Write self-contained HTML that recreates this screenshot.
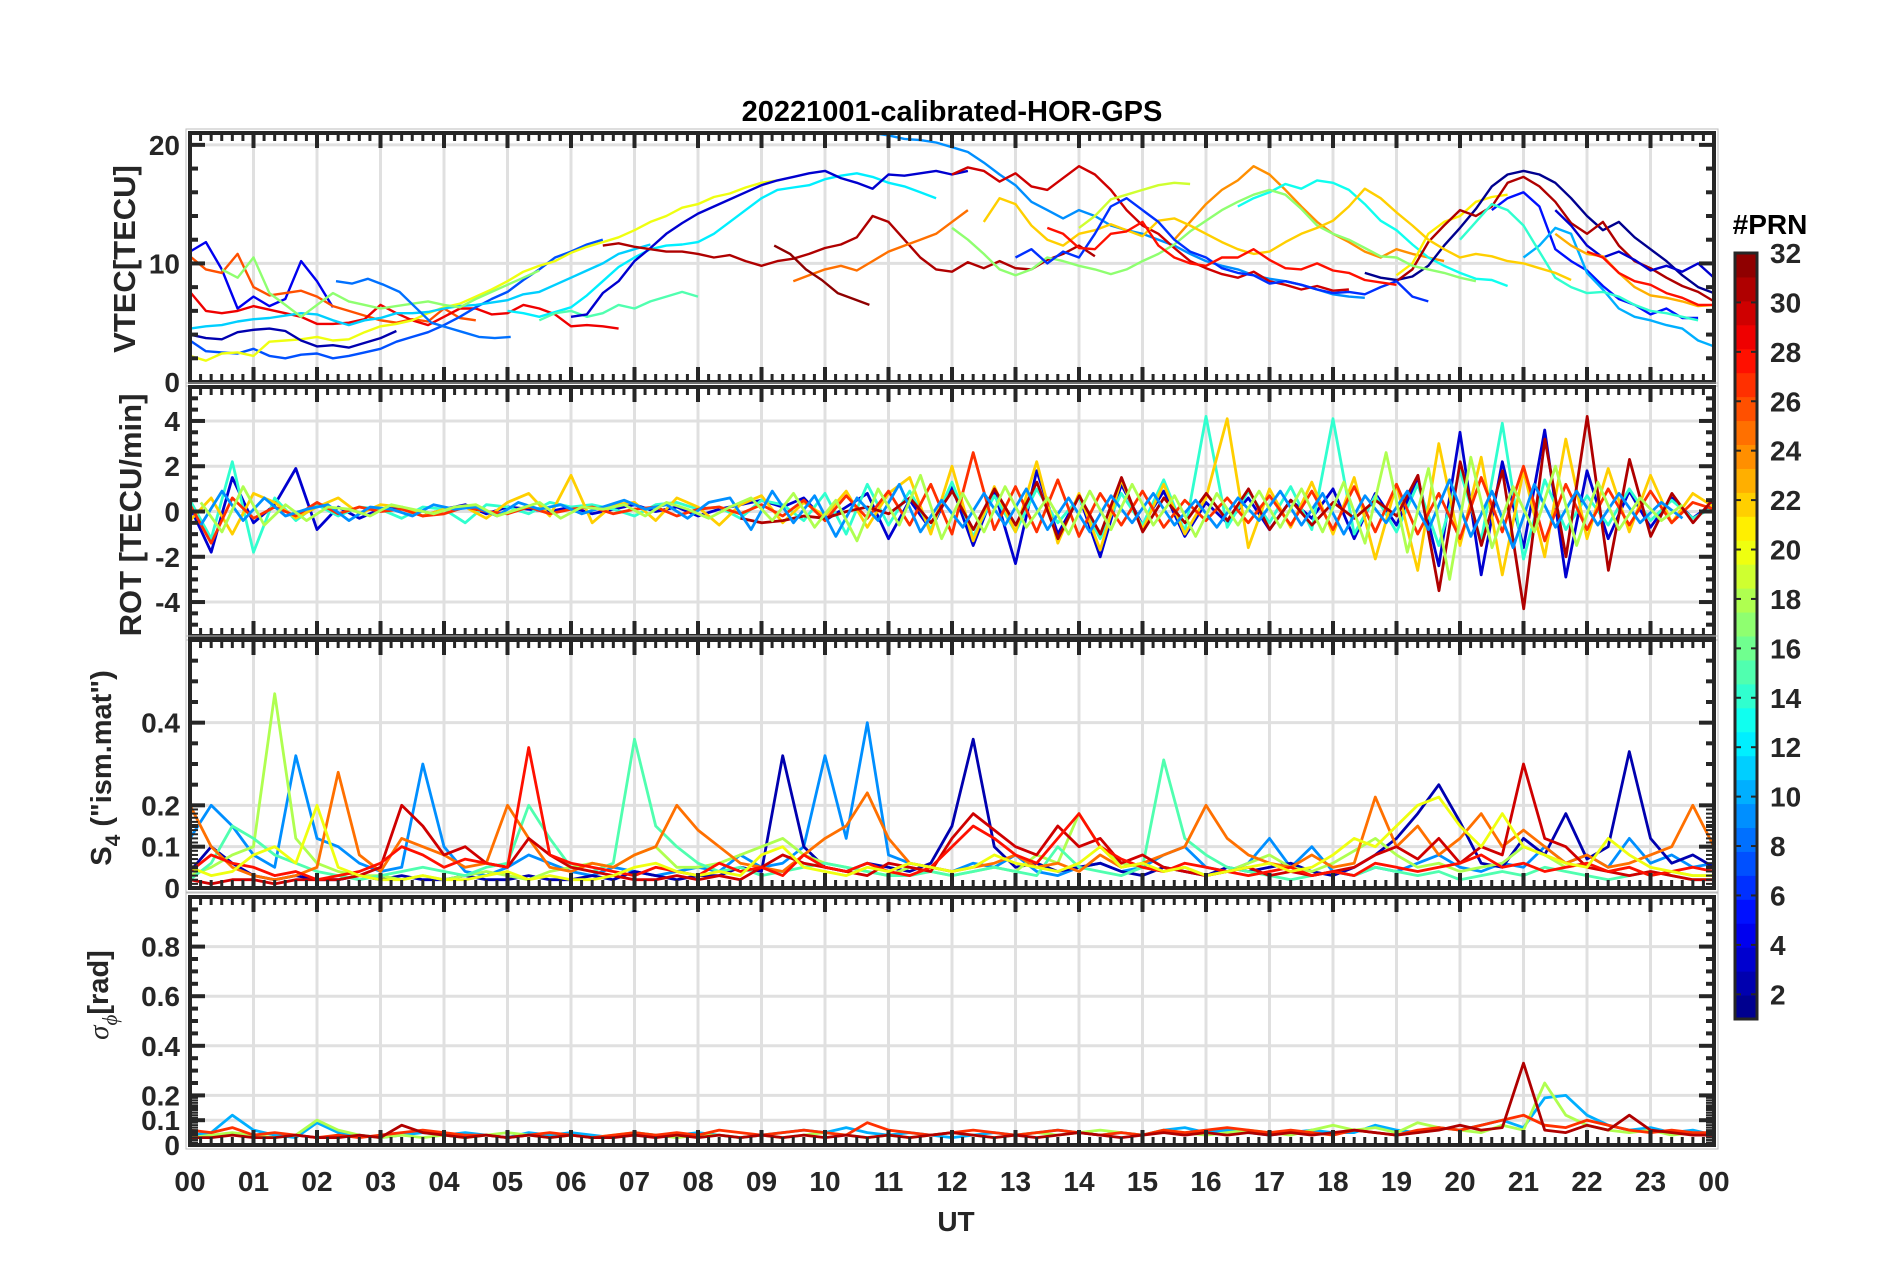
<!DOCTYPE html>
<html><head><meta charset="utf-8"><style>
html,body{margin:0;padding:0;background:#fff;}
svg{display:block;font-family:"Liberation Sans",Arial,sans-serif;font-weight:bold;}
</style></head><body>
<svg id="fig" width="1902" height="1272" viewBox="0 0 1902 1272" xmlns="http://www.w3.org/2000/svg">
<text x="952" y="121" font-size="29" text-anchor="middle" fill="#000">20221001-calibrated-HOR-GPS</text>
<text x="956" y="1231" font-size="28" text-anchor="middle" fill="#262626">UT</text>
<text transform="translate(135,259) rotate(-90)" font-size="31" text-anchor="middle" fill="#262626">VTEC[TECU]</text>
<text transform="translate(141,515) rotate(-90)" font-size="31" text-anchor="middle" fill="#262626">ROT [TECU/min]</text>
<text transform="translate(111,768) rotate(-90)" font-size="29" text-anchor="middle" fill="#262626">S<tspan font-size="21" dy="9">4</tspan><tspan dy="-9"> ("ism.mat")</tspan></text>
<text transform="translate(108,995) rotate(-90)" font-size="29" text-anchor="middle" fill="#262626"><tspan font-style="italic" font-weight="normal" font-family="Liberation Serif, serif">σ</tspan><tspan font-size="21" dy="9" font-style="italic" font-weight="normal" font-family="Liberation Serif, serif">ϕ</tspan><tspan dy="-9">[rad]</tspan></text>
<text x="1770" y="234" font-size="28" text-anchor="middle" fill="#000">#PRN</text>
</svg>
<script>
// ---------------- DATA ----------------
const hourTicks = ["00","01","02","03","04","05","06","07","08","09","10","11","12","13","14","15","16","17","18","19","20","21","22","23","00"];
const prnTicks = [2,4,6,8,10,12,14,16,18,20,22,24,26,28,30,32];
// VTEC arcs (step 0.25 h)
const vtecPrn   = [4,26,29,7,20,11,2,17,8,12,15,3,31,25,32,9,30,24,13,21,1,31,5,10,3,14,17,22,6,19,28,23,28];
const vtecStart = [0,0,0,0,0,0,0,0.5,2.3,5,5.5,6,6.5,9.5,9.2,10.75,12,15.5,16.5,19,18.5,19,20.5,21,21.5,20,12,12.5,13,14,13.5,21.5,22];
const vtecVals = [
[11,11.8,9.5,6.2,7.2,6.4,7,10.2,8.5,6.3],
[10.6,9.5,9.2,10.8,8,7.3,7.5,7.7,7.2,6.4,6,5.6,5.2,5,5.3,5.1,6.2,5.4,5.2],
[7.6,6,5.8,6,6.4,6.1,5.8,5.5,4.9,4.9,5,5.3,6.5,5.8,5.2,4.8,5.5,6.2,6.2,5.7,5.8,6.5,6.2,5.7,4.7,4.8,4.7,4.5],
[3.5,2.6,2.5,2.4,2.8,2.2,2.0,2.3,2.4,2.0,2.2,2.5,2.8,3.4,3.8,4.2,4.8,5.5,6.3,7.0,7.6,8.6,9.5,10.5,11,11.6,12],
[2.2,1.8,2.4,2.5,2.2,3.4,3.5,3.6,3.8,3.5,3.6,4.2,4.7,4.9,5.2,5.8,6.3,6.6,7.2,7.8,8.5,9.3,9.8,10.2,10.9,11.4,11.8,12.2,12.8,13.5,14,14.7,15,15.6,15.9,16.4,16.8,17],
[4.5,4.7,4.8,5.1,5.3,5.4,5.6,5.8,5.7,5.2,4.8,5.2,5.4,5.8,5.8,5.9,6.2,6.4,6.5,6.7,6.9,7.4,7.6,8.2,8.8,9.4,10,10.8,11.2,11.6],
[4,3.7,3.6,4.2,4.4,4.5,4.3,3.5,3.0,3.1,2.9,3.3,3.7,4.3],
[9.5,8.8,10.5,7.5,6.5,5.5,6.5,7.5,6.8,6.5,6.2,6.4,6.6,6.8,6.5,6.3,7,7.6,8.2,8.8,9.4],
[8.5,8.3,8.7,8.2,7.6,6.3,5,4.6,4.2,3.8,3.7,3.8],
[6,5.8,5.5,5.9,6.3,7.3,8.5,9.7,10.5,11.2,11.5,11.6,11.8,12.5,13.5,14.5,15.5,16.2,16.4,16.6,17.1,17.4,17.6,17.3,16.8,16.5,16,15.5],
[5.2,5.8,6,5.5,5.8,6.5,6.2,6.8,7.2,7.6,7.2],
[5.5,5.7,7.5,8.5,10.2,11.3,12.5,13.4,14.2,14.8,15.4,16,16.6,17,17.3,17.6,17.8,17.2,16.8,16.3,17.5,17.4,17.6,17.8,17.5,17.8],
[11.5,11.7,11.4,11.2,11,11,10.8,10.5,10.7,10.2,9.8,10.2,10.4,10.8,11.3,11.6,12.2,14,13.5,12,10.5,9.5,9.3,10.1,9.6,10.2,9.6,9.5,10.3,10.8,11.5,10.6],
[8.5,9,9.5,9.8,9.4,10.2,11,11.5,12,12.5,13.5,14.5],
[11.5,10.8,9.5,8.6,7.5,7,6.5],
[21,20.8,20.5,20.4,20.2,19.8,19.4,18.5,17.5,16.6,15.2,14.5,13.8,14.5,14,13.2,12.8,12.5,12,11.5,10.8,10.2,9.8,9.5,9,8.7,8.5,8.2,7.8,7.4,7.2,7.1],
[17.5,18.1,17.8,16.9,17.6,16.5,16.2,17.2,18.2,17.5,16.2,14.5,13.2,12.5,11.3,10.2,9.6,9.1,8.8,9.3,8.5,8.2,7.8,8.1,7.7,7.8],
[12,13.5,15,16.2,17,18.2,17.5,16.2,14.8,13.5,12.5,11.8,11,10.5,11.2,10.8,10.5,10.2],
[14.8,15.5,16,16.7,16.3,17,16.8,16.2,15,13.6,12.8,11.6,10.5,9.8,9.2,8.7,8.6,8.1],
[9,10,12.5,13.5,14,15.2,15.6,15.8],
[9.2,8.8,8.6,8.9,9.8,11.5,13,14.6,16.5,17.5,17.8,17.5,16.8,15.5,14,12.8,13.5,12.2,11.2,10.2,9,8,7.5],
[8.5,9.5,11.8,13.2,14.5,14,14.8,16.8,17.3,16.5,15.2,13.4,12.5,13.5,11.5,10.2,9.6,8.8,8.1,7.6,6.8],
[14.5,15.5,16,14.8,11.2,10.2,9.4,8.1,7,6.5,5.7,6.2,5.4,5.4],
[10.5,11.5,13,12.5,9.2,7.8,6.2,5.5,5.2,4.8,4.5,3.5,3,2.8],
[14.5,13.2,11.5,10.5,11,10.3,9.4,9.8,9.3,10,8.8,8.1],
[12,13.5,15,14.5,13.2,11,8.8,8,7.5,7.6,7.2,6.5,6,5.8,5.5,5.2],
[13,12,10.8,9.5,9,9.5,10.5,10.2,9.8,9.5,9.1,9.5,10.2,10.8,11.6,12.7,13.6,14.5,15.2,15.8,16.2,15.8,14.6,13.2,12.5,12,11.3,10.6,10.5,9.8,9.5,9.2,8.8,8.5],
[13.5,15.5,15,13.2,12,11.5,12.5,12.8,13.3,12.8,12.3,13.6,13.8,13.2,12.5,11.8,11.2,10.8,11,11.8,12.5,13,13.6,14.8,16.3,15.5,14.3,13.2,12,11.2,10.5,10.8,10.6,10.2,10,9.6,9.2,8.6],
[10.5,11.2,10,11,10.5,12.5,14.8,15.5,14.5,13.5,12,11,10.5,9.6,9.2,9,8.3,8.5,8.2,7.8,7.5,7.6,7.4,8,8.5,7.2,6.8],
[13,14,15.4,15.8,16.2,16.6,16.8,16.7],
[13,12.5,11.3,11.2,12.5,12.7,13.5,11.5,10.5,10,9.8,10.5,10.5,11.2,10.3,9.6,9.5,10,9.4,9.2,8.6,8.4,8.2],
[12.5,11.5,10.8,10.6,9.2,8,7.3,7.1,6.8,6.4,6.5,6.8,7.6],
[11,10.5,9.2,8.5,8.2,7.5,7.1,6.5,6.5,6.8,6.9,7.5,7.8]
];
// ROT series (step 1/3 h)
const rotPrn = [3,14,22,27,31,9,18];
const rotStart = [0,0,0,0,8.67,0.17,0.17];
const rotVals = [
[0.2,-1.8,1.5,-0.5,0.3,1.9,-0.8,0.2,-0.3,0.1,0.2,-0.2,0.1,0.3,-0.1,0.2,0.1,0,0.2,-0.1,0.1,0.3,0,0.2,-0.2,0.1,0.3,0.5,0.2,0.6,-0.4,0.2,0.8,-1.2,0.5,-0.8,1.1,-1.5,0.9,-2.3,1.8,-1.0,0.7,-2.0,1.2,-0.6,0.9,-1.1,0.4,-0.5,0.6,-0.8,0.5,-0.3,1.0,-1.2,0.8,-0.6,1.5,-2.4,3.5,-2.8,2.2,-1.6,3.6,-2.9,1.8,-1.2,0.9,-0.7,0.6,-0.3,0.4],
[0.5,-1.2,2.2,-1.8,0.6,-0.4,0.3,-0.2,0.2,0.1,-0.3,0.2,0.1,-0.5,0.3,0.2,-0.1,0.4,0.2,0.3,0.1,-0.2,0.3,0.4,0.1,0.2,-0.3,0.5,0.3,-0.4,0.8,-1.0,1.2,-0.6,0.9,-0.8,1.3,-1.1,0.7,-0.9,1.0,-0.5,0.6,-1.2,0.8,-0.6,1.4,-0.9,4.2,-0.7,0.9,-0.5,1.1,-0.8,4.1,-1.0,0.7,-0.9,1.2,-1.5,1.8,-1.3,3.9,-2.1,1.4,-0.8,0.7,-0.6,1.0,-0.4,0.5,-0.3,0.2],
[-0.4,0.6,-1.0,0.8,0.4,-0.3,0.2,0.6,-0.1,0.3,0.2,-0.2,0.1,0.2,-0.3,0.4,0.8,-0.2,1.6,-0.5,0.3,0.4,-0.4,0.6,0.2,-0.6,0.3,0.7,-0.5,0.4,-0.2,0.9,-0.7,0.8,1.5,-1.0,2.0,-1.3,1.1,-0.9,2.2,-1.4,0.8,-1.7,1.4,-0.8,1.2,-1.0,0.6,4.1,-1.6,1.0,-0.7,1.3,-1.0,1.5,-2.1,1.2,-2.6,3.0,-1.5,2.4,-2.8,1.8,-2.0,3.2,-1.2,1.9,-0.9,1.6,-0.5,0.8,0.2],
[0.3,-1.4,0.6,-0.3,0.2,-0.2,0.4,-0.1,0.2,0,0.1,-0.2,-0.1,0.2,0,-0.1,0.2,-0.1,0.1,0.2,-0.1,0.1,0.2,-0.2,0.1,0.2,-0.1,0.3,-0.2,0.5,-0.4,0.7,-0.3,0.9,-0.6,1.2,-1.0,2.6,-0.8,1.1,-0.9,1.4,-1.1,0.8,-0.6,0.9,-0.7,0.5,-0.4,0.6,-0.5,0.7,-0.6,0.9,-0.8,1.1,-0.9,1.2,-1.0,0.8,-1.2,1.5,-0.9,2.0,-1.3,1.2,-0.8,1.0,-0.6,0.9,-0.5,0.4,0.1],
[-0.3,-0.5,-0.4,-0.2,-0.3,0,0.2,-0.1,0.6,-0.5,0.9,-0.8,1.0,-0.6,1.3,-1.2,0.7,-1.0,1.5,-0.9,0.6,-0.5,0.8,-0.4,1.0,-0.8,0.5,-0.6,0.4,-0.3,0.5,-0.2,1.6,-3.5,2.2,-1.5,1.8,-4.3,3.2,-2.0,4.2,-2.6,2.3,-1.1,0.8,-0.5,0.6],
[-0.6,0.9,-0.4,0.6,-0.2,0.1,0.3,-0.4,0.2,0.1,-0.2,0.3,0.1,0.2,-0.2,0.4,0.1,0.3,-0.1,0.2,0.5,0.1,0.3,-0.3,0.4,0.6,-0.8,0.9,-0.5,0.7,-1.1,0.6,-0.4,1.2,-0.9,0.5,-0.7,0.8,-0.6,1.0,-0.8,0.6,-0.9,0.7,-0.5,0.8,-0.6,0.5,-0.7,0.6,-0.4,0.9,-0.6,0.8,-1.0,0.7,-0.5,0.9,-0.8,1.4,-1.1,0.9,-1.6,1.2,-0.7,0.9,-0.6,0.8,-0.5,0.4,-0.3],
[0.4,-0.9,1.1,-0.6,0.3,-0.4,0.2,0.1,-0.2,0.3,0.1,-0.1,0.2,0.3,-0.2,0.1,0.4,-0.3,0.2,0.1,0.3,-0.2,0.4,0.1,-0.3,0.2,0.6,-0.4,0.8,-0.7,0.5,-1.3,1.0,-0.6,1.6,-1.2,0.8,-0.9,1.1,-0.7,0.6,-1.0,0.9,-0.8,1.2,-0.6,0.7,-1.1,0.8,-0.6,0.9,-0.7,1.0,-0.9,1.3,-1.4,2.6,-1.8,1.9,-3.0,2.4,-1.6,1.1,-0.9,2.0,-1.5,1.3,-0.8,0.6,-0.4,0.3]
];
// S4 series (step 1/3 h)
const s4Prn = [9,2,18,15,25,30,28,20];
const s4Vals = [
[0.12,0.2,0.15,0.08,0.05,0.32,0.12,0.1,0.06,0.04,0.05,0.3,0.1,0.04,0.03,0.05,0.08,0.06,0.04,0.03,0.05,0.04,0.03,0.04,0.05,0.04,0.08,0.05,0.06,0.1,0.32,0.12,0.4,0.08,0.06,0.05,0.04,0.06,0.05,0.08,0.04,0.03,0.05,0.06,0.04,0.05,0.08,0.1,0.05,0.04,0.06,0.12,0.05,0.1,0.04,0.03,0.05,0.04,0.06,0.08,0.05,0.04,0.06,0.05,0.1,0.06,0.08,0.05,0.12,0.06,0.08,0.05,0.06],
[0.04,0.1,0.06,0.03,0.02,0.03,0.02,0.02,0.03,0.02,0.03,0.02,0.02,0.03,0.02,0.02,0.03,0.02,0.02,0.03,0.02,0.04,0.03,0.02,0.03,0.03,0.05,0.04,0.32,0.1,0.05,0.04,0.06,0.05,0.04,0.06,0.15,0.36,0.1,0.05,0.06,0.04,0.05,0.06,0.04,0.03,0.05,0.04,0.03,0.05,0.04,0.05,0.06,0.04,0.03,0.05,0.08,0.12,0.18,0.25,0.16,0.06,0.05,0.12,0.08,0.18,0.07,0.1,0.33,0.12,0.06,0.08,0.05],
[0.03,0.05,0.08,0.1,0.47,0.12,0.06,0.04,0.03,0.03,0.02,0.03,0.02,0.03,0.04,0.03,0.02,0.04,0.05,0.06,0.05,0.08,0.1,0.05,0.05,0.06,0.08,0.1,0.12,0.08,0.06,0.05,0.04,0.03,0.05,0.04,0.03,0.04,0.05,0.04,0.08,0.06,0.18,0.1,0.06,0.05,0.04,0.05,0.03,0.04,0.06,0.08,0.05,0.04,0.06,0.09,0.12,0.08,0.05,0.06,0.04,0.05,0.06,0.1,0.08,0.05,0.06,0.04,0.05,0.03,0.04,0.03,0.03],
[0.02,0.06,0.15,0.12,0.08,0.06,0.04,0.03,0.02,0.03,0.04,0.05,0.04,0.03,0.05,0.06,0.2,0.12,0.05,0.04,0.06,0.36,0.15,0.1,0.06,0.04,0.05,0.03,0.04,0.05,0.06,0.05,0.04,0.03,0.03,0.04,0.03,0.04,0.05,0.04,0.03,0.1,0.05,0.04,0.03,0.05,0.31,0.12,0.08,0.05,0.04,0.03,0.02,0.03,0.04,0.03,0.05,0.04,0.03,0.04,0.02,0.03,0.04,0.03,0.05,0.04,0.03,0.02,0.03,0.04,0.03,0.02,0.02],
[0.2,0.1,0.05,0.03,0.02,0.03,0.05,0.28,0.08,0.04,0.12,0.1,0.08,0.05,0.06,0.2,0.12,0.05,0.04,0.06,0.05,0.08,0.1,0.2,0.14,0.1,0.06,0.05,0.04,0.08,0.12,0.15,0.23,0.12,0.06,0.05,0.04,0.05,0.06,0.08,0.05,0.06,0.04,0.08,0.05,0.06,0.08,0.1,0.2,0.12,0.08,0.06,0.05,0.08,0.05,0.06,0.22,0.1,0.15,0.08,0.12,0.18,0.1,0.14,0.1,0.06,0.08,0.05,0.06,0.08,0.1,0.2,0.1],
[0.02,0.01,0.02,0.02,0.01,0.02,0.02,0.02,0.03,0.05,0.2,0.15,0.08,0.1,0.06,0.05,0.12,0.08,0.05,0.04,0.03,0.02,0.02,0.03,0.02,0.03,0.02,0.05,0.08,0.06,0.05,0.04,0.03,0.06,0.05,0.04,0.12,0.18,0.14,0.1,0.08,0.15,0.1,0.12,0.06,0.08,0.05,0.04,0.03,0.04,0.05,0.03,0.04,0.03,0.04,0.05,0.08,0.1,0.07,0.12,0.06,0.1,0.08,0.3,0.12,0.1,0.05,0.04,0.03,0.04,0.03,0.02,0.02],
[0.04,0.08,0.06,0.05,0.03,0.04,0.02,0.03,0.04,0.06,0.1,0.08,0.05,0.07,0.06,0.05,0.34,0.08,0.06,0.05,0.04,0.03,0.05,0.04,0.03,0.06,0.04,0.05,0.03,0.08,0.05,0.04,0.06,0.04,0.03,0.05,0.1,0.15,0.12,0.08,0.06,0.12,0.18,0.1,0.07,0.05,0.04,0.06,0.05,0.04,0.03,0.04,0.05,0.03,0.04,0.03,0.06,0.05,0.04,0.05,0.06,0.08,0.05,0.06,0.04,0.05,0.06,0.04,0.05,0.03,0.04,0.05,0.04],
[0.05,0.03,0.04,0.08,0.1,0.06,0.2,0.05,0.03,0.02,0.02,0.03,0.02,0.02,0.03,0.04,0.02,0.03,0.02,0.02,0.03,0.05,0.06,0.04,0.03,0.04,0.03,0.08,0.1,0.05,0.04,0.03,0.05,0.04,0.06,0.05,0.04,0.05,0.08,0.06,0.05,0.04,0.06,0.1,0.05,0.06,0.04,0.05,0.03,0.04,0.05,0.06,0.04,0.05,0.08,0.12,0.1,0.15,0.2,0.22,0.15,0.1,0.18,0.1,0.08,0.06,0.05,0.12,0.08,0.05,0.04,0.03,0.03]
];
// sigma-phi series (step 1/3 h)
const sigPrn = [10,18,27,31];
const sigVals = [
[0.04,0.05,0.12,0.06,0.04,0.03,0.09,0.05,0.04,0.03,0.04,0.05,0.04,0.05,0.04,0.03,0.05,0.04,0.05,0.04,0.03,0.05,0.04,0.04,0.05,0.04,0.03,0.04,0.05,0.06,0.05,0.07,0.05,0.04,0.05,0.04,0.03,0.04,0.05,0.04,0.05,0.06,0.05,0.04,0.05,0.04,0.06,0.07,0.05,0.06,0.05,0.04,0.05,0.06,0.05,0.05,0.08,0.06,0.05,0.07,0.06,0.08,0.1,0.07,0.19,0.2,0.12,0.08,0.06,0.07,0.05,0.06,0.04],
[0.03,0.04,0.05,0.04,0.03,0.04,0.1,0.06,0.04,0.03,0.04,0.03,0.04,0.03,0.04,0.05,0.04,0.03,0.04,0.03,0.04,0.05,0.04,0.03,0.04,0.04,0.03,0.04,0.03,0.04,0.05,0.04,0.03,0.04,0.03,0.04,0.05,0.04,0.03,0.04,0.05,0.04,0.05,0.06,0.05,0.04,0.06,0.05,0.04,0.05,0.06,0.05,0.04,0.06,0.08,0.06,0.07,0.05,0.09,0.07,0.06,0.05,0.08,0.06,0.25,0.12,0.08,0.06,0.05,0.06,0.04,0.05,0.04],
[0.06,0.05,0.07,0.04,0.05,0.04,0.03,0.04,0.03,0.04,0.05,0.06,0.05,0.04,0.04,0.03,0.04,0.05,0.04,0.03,0.04,0.05,0.04,0.05,0.04,0.06,0.05,0.04,0.05,0.06,0.05,0.04,0.09,0.06,0.05,0.04,0.05,0.06,0.05,0.04,0.05,0.06,0.05,0.04,0.05,0.04,0.06,0.05,0.06,0.07,0.06,0.05,0.06,0.05,0.04,0.06,0.05,0.04,0.06,0.07,0.06,0.08,0.1,0.12,0.08,0.07,0.1,0.08,0.06,0.05,0.06,0.05,0.05],
[0.03,0.03,0.04,0.03,0.03,0.04,0.03,0.03,0.04,0.03,0.08,0.05,0.04,0.03,0.04,0.03,0.04,0.03,0.04,0.03,0.03,0.04,0.03,0.04,0.03,0.04,0.03,0.04,0.03,0.04,0.03,0.04,0.03,0.04,0.03,0.04,0.05,0.04,0.03,0.04,0.03,0.04,0.05,0.04,0.03,0.04,0.05,0.04,0.05,0.04,0.05,0.04,0.05,0.04,0.05,0.06,0.05,0.04,0.05,0.06,0.08,0.06,0.07,0.33,0.06,0.05,0.08,0.06,0.12,0.06,0.05,0.04,0.04]
];
// ---------------- DRAWING ----------------
const svg = document.getElementById('fig');
const NS = 'http://www.w3.org/2000/svg';
const X0 = 190, X1 = 1714;
const panels = [
  {name:'vtec', top:133, bot:382, ymin:0, ymax:21, majors:[0,10,20], labels:['0','10','20'], minor:2, grid:[10,20]},
  {name:'rot', top:387, bot:636, ymin:-5.5, ymax:5.5, majors:[-4,-2,0,2,4], labels:['-4','-2','0','2','4'], minor:0.5, grid:[-4,-2,0,2,4]},
  {name:'s4', top:640, bot:888, ymin:0, ymax:0.6, majors:[0,0.1,0.2,0.4], labels:['0','0.1','0.2','0.4'], minor:0.05, grid:[0.1,0.2,0.4]},
  {name:'sigma', top:897, bot:1145, ymin:0, ymax:1, majors:[0,0.1,0.2,0.4,0.6,0.8], labels:['0','0.1','0.2','0.4','0.6','0.8'], minor:0.05, grid:[0.1,0.2,0.4,0.6,0.8]}
];
function xs(h){ return X0 + (X1 - X0) * h / 24; }
function ysFor(p){ return v => p.bot - (p.bot - p.top) * (v - p.ymin) / (p.ymax - p.ymin); }
function jet(v){
  const r = Math.min(Math.max(Math.min(4*v-1.5, -4*v+4.5),0),1);
  const g = Math.min(Math.max(Math.min(4*v-0.5, -4*v+3.5),0),1);
  const b = Math.min(Math.max(Math.min(4*v+0.5, -4*v+2.5),0),1);
  return 'rgb(' + Math.round(r*255) + ',' + Math.round(g*255) + ',' + Math.round(b*255) + ')';
}
function prnColor(prn){ return jet((prn - 0.5) / 32); }
function mk(tag, attrs, parent){ const e = document.createElementNS(NS, tag); for (const k in attrs) e.setAttribute(k, attrs[k]); (parent||svg).appendChild(e); return e; }

panels.forEach((p, pi) => {
  const ys = ysFor(p);
  const g = mk('g', {});
  
  
  const clipId = 'clip' + pi;
  const cp = mk('clipPath', {id: clipId}, g);
  mk('rect', {x: X0, y: p.top, width: X1 - X0, height: p.bot - p.top}, cp);
  mk('rect', {x: X0-4, y: p.top-4, width: X1-X0+8, height: p.bot-p.top+8, fill:'none', stroke:'#bdbdbd', 'stroke-width':1}, g);
  for (let h = 1; h < 24; h++) {
    const gl = mk('line', {x1: xs(h), x2: xs(h), y1: p.top, y2: p.bot, stroke:'#e0e0e0', 'stroke-width':3}, g);
    
    
  }
  p.grid.forEach(v => {
    const gl = mk('line', {x1: X0, x2: X1, y1: ys(v), y2: ys(v), stroke:'#e0e0e0', 'stroke-width':3}, g);
    
    
  });
  const sg = mk('g', {'clip-path': 'url(#' + clipId + ')'}, g);
  function drawSeries(prn, start, step, vals, w){
    let d = '';
    vals.forEach((v, i) => { d += (i ? 'L' : 'M') + xs(start + i*step).toFixed(1) + ',' + ys(v).toFixed(1); });
    const pl = mk('path', {d: d, fill:'none', stroke: prnColor(prn), 'stroke-width': w, 'stroke-linejoin':'round'}, sg);
    
    
  }
  if (p.name === 'vtec') vtecVals.forEach((vals, i) => drawSeries(vtecPrn[i], vtecStart[i], 0.25, vals, 2.4));
  if (p.name === 'rot') rotVals.forEach((vals, i) => drawSeries(rotPrn[i], rotStart[i], 1/3, vals, 2.8));
  if (p.name === 's4') s4Vals.forEach((vals, i) => drawSeries(s4Prn[i], 0, 1/3, vals, 2.8));
  if (p.name === 'sigma') sigVals.forEach((vals, i) => drawSeries(sigPrn[i], 0, 1/3, vals, 2.8));
  const tc = '#262626';
  for (let m = 0; m <= 144; m++) {
    const x = xs(m/6), L = (m % 6 === 0) ? 15 : 8, w = (m % 6 === 0) ? 4 : 3;
    mk('line', {x1:x, x2:x, y1:p.top, y2:p.top+L, stroke:tc, 'stroke-width':w}, g);
    mk('line', {x1:x, x2:x, y1:p.bot, y2:p.bot-L, stroke:tc, 'stroke-width':w}, g);
  }
  const nMin = Math.round((p.ymax - p.ymin) / p.minor);
  for (let k = 0; k <= nMin; k++) {
    const v = Math.ceil(p.ymin / p.minor) * p.minor + k * p.minor;
    if (v > p.ymax + 1e-9) break;
    const isMaj = p.majors.some(mj => Math.abs(mj - v) < 1e-6);
    const L = isMaj ? 15 : 8;
    mk('line', {x1:X0, x2:X0+L, y1:ys(v), y2:ys(v), stroke:tc, 'stroke-width':4}, g);
    mk('line', {x1:X1, x2:X1-L, y1:ys(v), y2:ys(v), stroke:tc, 'stroke-width':4}, g);
  }
  if (p.name === 's4' || p.name === 'sigma') {
    for (let v = 0.01; v < 0.2; v += 0.01) {
      mk('line', {x1:X0, x2:X0+8, y1:ys(v), y2:ys(v), stroke:tc, 'stroke-width':2}, g);
      mk('line', {x1:X1, x2:X1-8, y1:ys(v), y2:ys(v), stroke:tc, 'stroke-width':2}, g);
    }
  }
  const fr = mk('rect', {x:X0, y:p.top, width:X1-X0, height:p.bot-p.top, fill:'none', stroke:tc, 'stroke-width':4}, g);
  
  
  p.majors.forEach((v, i) => {
    const t = mk('text', {x: X0-10, y: ys(v)+10, 'font-size':28, 'text-anchor':'end', fill:'#262626'}, g);
    t.textContent = p.labels[i];
    
    
  });
});
hourTicks.forEach((lab, i) => {
  const t = mk('text', {x: xs(i), y: 1191, 'font-size':28, 'text-anchor':'middle', fill:'#262626'});
  t.textContent = lab;
  
  
});
const CBX = 1735, CBW = 22, CBT = 253, CBB = 1019;
const cb = mk('g', {});


for (let k = 0; k < 32; k++) {
  const h = (CBB - CBT) / 32;
  mk('rect', {x: CBX, y: CBB - (k+1)*h, width: CBW, height: h + 0.5, fill: jet((k + 0.5) / 32)}, cb);
}
mk('rect', {x: CBX, y: CBT, width: CBW, height: CBB - CBT, fill:'none', stroke:'#262626', 'stroke-width':3}, cb);
function cbY(v){ return CBB - (CBB - CBT) * (v - 1) / 31; }
prnTicks.forEach(v => {
  mk('line', {x1: CBX, x2: CBX + 6, y1: cbY(v), y2: cbY(v), stroke:'#262626', 'stroke-width':2}, cb);
  mk('line', {x1: CBX + CBW, x2: CBX + CBW - 6, y1: cbY(v), y2: cbY(v), stroke:'#262626', 'stroke-width':2}, cb);
  const t = mk('text', {x: CBX + CBW + 13, y: cbY(v) + 10, 'font-size':28, fill:'#262626'}, cb);
  t.textContent = String(v);
  
  
});
</script>
</body></html>
